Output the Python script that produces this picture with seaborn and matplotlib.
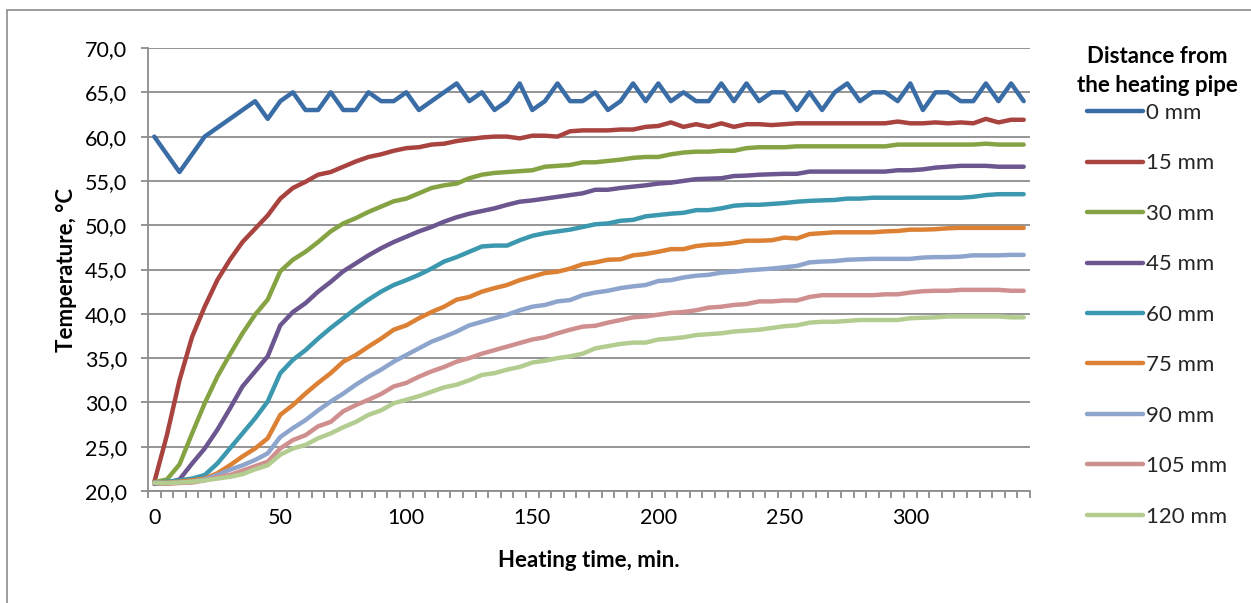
import matplotlib
matplotlib.use("Agg")
import matplotlib.pyplot as plt
import matplotlib.ticker as mticker
from matplotlib.patches import Rectangle
import seaborn as sns
import pandas as pd
import numpy as np

sns.set_theme(style="white")
plt.rcParams['font.family'] = ['Lato', 'DejaVu Sans']

# heating time, min (one reading every 5 min)
minutes = list(range(0, 350, 5))

series_names = ['0 mm', '15 mm', '30 mm', '45 mm', '60 mm', '75 mm', '90 mm', '105 mm', '120 mm']

t_0 = [60, 58, 56, 58, 60, 61, 62, 63, 64, 62,
       64, 65, 63, 63, 65, 63, 63, 65, 64, 64,
       65, 63, 64, 65, 66, 64, 65, 63, 64, 66,
       63, 64, 66, 64, 64, 65, 63, 64, 66, 64,
       66, 64, 65, 64, 64, 66, 64, 66, 64, 65,
       65, 63, 65, 63, 65, 66, 64, 65, 65, 64,
       66, 63, 65, 65, 64, 64, 66, 64, 66, 64]
t_15 = [21.0, 26.3, 32.5, 37.4, 40.8, 43.8, 46.1, 48.1, 49.6, 51.1,
        53.0, 54.2, 54.9, 55.7, 56.0, 56.6, 57.2, 57.7, 58.0, 58.4,
        58.7, 58.8, 59.1, 59.2, 59.5, 59.7, 59.9, 60.0, 60.0, 59.8,
        60.1, 60.1, 60.0, 60.6, 60.7, 60.7, 60.7, 60.8, 60.8, 61.1,
        61.2, 61.6, 61.1, 61.4, 61.1, 61.5, 61.1, 61.4, 61.4, 61.3,
        61.4, 61.5, 61.5, 61.5, 61.5, 61.5, 61.5, 61.5, 61.5, 61.7,
        61.5, 61.5, 61.6, 61.5, 61.6, 61.5, 62.0, 61.6, 61.9, 61.9]
t_30 = [21.0, 21.3, 23.0, 26.5, 29.9, 32.9, 35.4, 37.8, 39.9, 41.6,
        44.8, 46.1, 47.0, 48.1, 49.3, 50.2, 50.8, 51.5, 52.1, 52.7,
        53.0, 53.6, 54.2, 54.5, 54.7, 55.3, 55.7, 55.9, 56.0, 56.1,
        56.2, 56.6, 56.7, 56.8, 57.1, 57.1, 57.25, 57.4, 57.6, 57.7,
        57.7, 58.0, 58.2, 58.3, 58.3, 58.4, 58.4, 58.7, 58.8, 58.8,
        58.8, 58.9, 58.9, 58.9, 58.9, 58.9, 58.9, 58.9, 58.9, 59.1,
        59.1, 59.1, 59.1, 59.1, 59.1, 59.1, 59.2, 59.1, 59.1, 59.1]
t_45 = [20.8, 20.9, 21.3, 23.1, 24.8, 26.9, 29.3, 31.8, 33.5, 35.2,
        38.7, 40.2, 41.2, 42.5, 43.6, 44.8, 45.7, 46.6, 47.4, 48.1,
        48.7, 49.3, 49.8, 50.4, 50.9, 51.3, 51.6, 51.9, 52.3, 52.65,
        52.8, 53.0, 53.2, 53.4, 53.6, 54.0, 54.0, 54.2, 54.35, 54.5,
        54.7, 54.8, 55.0, 55.2, 55.25, 55.3, 55.55, 55.6, 55.7, 55.75,
        55.8, 55.8, 56.05, 56.05, 56.05, 56.05, 56.05, 56.05, 56.05, 56.2,
        56.2, 56.3, 56.5, 56.6, 56.7, 56.7, 56.7, 56.6, 56.6, 56.6]
t_60 = [20.95, 21.05, 21.2, 21.4, 21.8, 23.1, 24.8, 26.5, 28.2, 30.1,
        33.3, 34.8, 35.9, 37.2, 38.4, 39.5, 40.6, 41.6, 42.5, 43.25,
        43.8, 44.4, 45.1, 45.9, 46.4, 47.0, 47.6, 47.7, 47.7, 48.3,
        48.8, 49.1, 49.3, 49.5, 49.8, 50.1, 50.2, 50.5, 50.6, 51.0,
        51.15, 51.3, 51.4, 51.7, 51.7, 51.9, 52.2, 52.3, 52.3, 52.4,
        52.5, 52.65, 52.75, 52.8, 52.85, 53.0, 53.0, 53.1, 53.1, 53.1,
        53.1, 53.1, 53.1, 53.1, 53.1, 53.2, 53.4, 53.5, 53.5, 53.5]
t_75 = [20.95, 20.95, 21.05, 21.2, 21.4, 22.0, 22.9, 23.9, 24.8, 25.95,
        28.6, 29.7, 31.0, 32.2, 33.3, 34.6, 35.35, 36.3, 37.2, 38.2,
        38.7, 39.5, 40.2, 40.8, 41.6, 41.9, 42.5, 42.9, 43.25, 43.8,
        44.2, 44.6, 44.75, 45.1, 45.6, 45.8, 46.1, 46.15, 46.6, 46.75,
        47.0, 47.3, 47.3, 47.65, 47.8, 47.85, 48.0, 48.25, 48.25, 48.3,
        48.6, 48.5, 49.0, 49.1, 49.2, 49.2, 49.2, 49.2, 49.3, 49.35,
        49.5, 49.5, 49.55, 49.65, 49.7, 49.7, 49.7, 49.7, 49.7, 49.7]
t_90 = [20.95, 20.9, 20.95, 21.05, 21.3, 21.8, 22.4, 22.9, 23.5, 24.25,
        26.1, 27.1, 28.0, 29.1, 30.1, 31.0, 32.0, 32.9, 33.7, 34.6,
        35.35, 36.1, 36.85, 37.4, 38.0, 38.7, 39.1, 39.5, 39.9, 40.4,
        40.8, 41.0, 41.4, 41.55, 42.1, 42.4, 42.6, 42.9, 43.1, 43.25,
        43.7, 43.8, 44.1, 44.3, 44.4, 44.65, 44.75, 44.9, 45.0, 45.1,
        45.25, 45.4, 45.8, 45.9, 45.95, 46.1, 46.15, 46.2, 46.2, 46.2,
        46.2, 46.35, 46.4, 46.4, 46.45, 46.6, 46.6, 46.6, 46.65, 46.65]
t_105 = [20.9, 20.8, 20.9, 20.95, 21.2, 21.55, 21.8, 22.3, 22.8, 23.3,
         24.8, 25.75, 26.3, 27.3, 27.8, 29.0, 29.7, 30.3, 30.95, 31.8,
         32.2, 32.9, 33.5, 34.0, 34.6, 35.0, 35.5, 35.9, 36.3, 36.7,
         37.1, 37.35, 37.8, 38.2, 38.55, 38.65, 39.0, 39.3, 39.6, 39.7,
         39.9, 40.1, 40.2, 40.4, 40.7, 40.8, 41.0, 41.1, 41.4, 41.4,
         41.5, 41.5, 41.9, 42.1, 42.1, 42.1, 42.1, 42.1, 42.2, 42.2,
         42.4, 42.55, 42.6, 42.6, 42.7, 42.7, 42.7, 42.7, 42.6, 42.6]
t_120 = [20.9, 20.9, 20.95, 21.05, 21.2, 21.4, 21.6, 21.9, 22.45, 22.9,
         24.1, 24.8, 25.2, 25.95, 26.5, 27.2, 27.8, 28.6, 29.1, 29.9,
         30.3, 30.7, 31.2, 31.7, 32.0, 32.5, 33.1, 33.3, 33.7, 34.0,
         34.5, 34.7, 35.0, 35.2, 35.5, 36.1, 36.35, 36.6, 36.75, 36.75,
         37.1, 37.2, 37.35, 37.6, 37.7, 37.8, 38.0, 38.1, 38.2, 38.4,
         38.6, 38.7, 39.0, 39.1, 39.1, 39.2, 39.3, 39.3, 39.3, 39.3,
         39.5, 39.55, 39.6, 39.7, 39.7, 39.7, 39.7, 39.7, 39.6, 39.6]

colors = ['#3A6DA6', '#A84340', '#86A344', '#6C568F', '#3B98AE',
          '#DC8034', '#8DA5CD', '#D08F8F', '#B3CD91']

# long form table for seaborn
all_series = [t_0, t_15, t_30, t_45, t_60, t_75, t_90, t_105, t_120]
df = pd.concat([pd.DataFrame({'Heating time': minutes, 'Temperature': vals, 'Distance': name})
                for name, vals in zip(series_names, all_series)], ignore_index=True)

fig = plt.figure(figsize=(12.51, 6.03), dpi=100)
ax = fig.add_axes([148/1251, 1-491/603, 882/1251, 443/603])

sns.lineplot(ax=ax, data=df, x='Heating time', y='Temperature', hue='Distance',
             hue_order=series_names, palette=colors, linewidth=3.2,
             estimator=None, errorbar=None, legend=True)
for ln in ax.get_lines():
    ln.set_solid_capstyle('round')
    ln.set_solid_joinstyle('round')

grid_c = '#8c8c8c'
ax.set_xlim(-2.5, 347.5)
ax.set_ylim(20, 70)
ax.yaxis.set_major_locator(mticker.MultipleLocator(5))
ax.yaxis.set_major_formatter(mticker.FuncFormatter(lambda v, p: f"{v:.1f}".replace('.', ',')))
ax.set_xticks(range(0, 301, 50))
ax.set_xticks(np.arange(-2.5, 350, 5), minor=True)
ax.grid(axis='y', color=grid_c, lw=1.3)
ax.set_axisbelow(True)
for s in ['top', 'right']:
    ax.spines[s].set_visible(False)
for s in ['left', 'bottom']:
    ax.spines[s].set_color(grid_c)
    ax.spines[s].set_linewidth(1.3)
ax.tick_params(axis='y', which='major', left=True, length=5, width=1.3, color=grid_c,
               pad=10, labelsize=15.5, labelcolor='black')
ax.tick_params(axis='x', which='major', bottom=True, length=0, pad=12, labelsize=15.5, labelcolor='black')
ax.tick_params(axis='x', which='minor', bottom=True, length=5, width=1.3, color=grid_c)

ax.set_xlabel('Heating time, min.', fontsize=16, fontweight='bold', color='black')
ax.set_ylabel('Temperature, °C', fontsize=16, fontweight='bold', color='black')
ax.xaxis.set_label_coords(0.5, -0.156)
ax.xaxis.label.set_va('center')
ax.yaxis.set_label_coords(-0.092, 0.5)
ax.yaxis.label.set_va('center')

# legend on the right, title as separate text
handles, labels = ax.get_legend_handles_labels()
ax.get_legend().remove()
fig.text(1157/1251, 1-46/603, 'Distance from\nthe heating pipe', ha='center', va='top',
         fontsize=16, fontweight='bold', linespacing=1.45, color='black')
fig.legend(handles, labels, loc='upper left', bbox_to_anchor=(1087/1251, 1-103/603),
           bbox_transform=fig.transFigure, frameon=False, fontsize=16,
           borderpad=0, borderaxespad=0, handlelength=2.52, handletextpad=0.13,
           labelspacing=1.37)

# chart area border
fig.add_artist(Rectangle((7/1251, -0.1), 1.5, 1.1 - 10/603, transform=fig.transFigure,
                         fill=False, edgecolor='#8c8c8c', lw=1.2))

fig.savefig('out.png', dpi=100)
